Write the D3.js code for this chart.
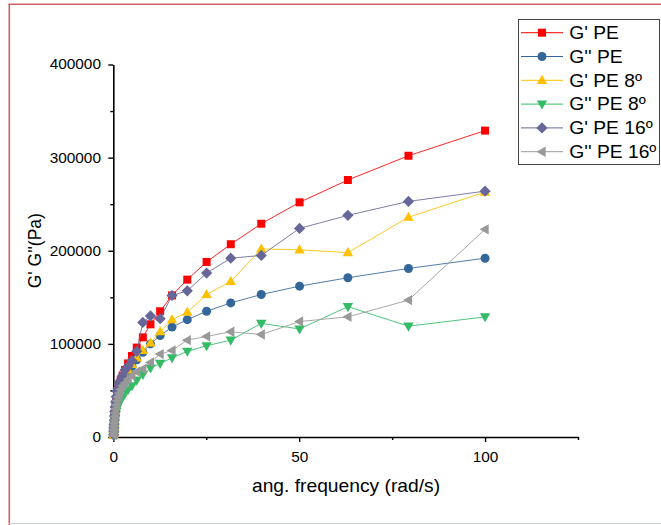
<!DOCTYPE html>
<html><head><meta charset="utf-8">
<script src="https://cdn.jsdelivr.net/npm/d3@7"></script>
<style>
body{margin:0;background:#fff}
svg{display:block;font-family:"Liberation Sans",Arial,sans-serif}
</style>
</head><body>
<svg id="c" width="661" height="525"></svg>
<script>
// ---- data ----
const freq = [0.1, 0.126, 0.158, 0.2, 0.251, 0.316, 0.398, 0.501, 0.631, 0.794,
  1, 1.26, 1.58, 2, 2.51, 3.16, 3.98, 5.01, 6.31, 7.94,
  10, 12.6, 15.8, 19.9, 25.1, 31.6, 39.8, 50.1, 63.1, 79.4, 100];
const gpPE = [2300, 5500, 9200, 12900, 17000, 21200, 25800, 30400, 35400, 40500,
  46000, 51000, 56000, 61000, 66000, 72000, 79000, 87000, 96000, 107000,
  121000, 135000, 152000, 169000, 188000, 207000, 229000, 252000, 276000, 302000, 329000];
const gppPE = [2100, 5000, 8400, 11800, 15500, 19300, 23500, 27700, 32300, 37000,
  42000, 46000, 50000, 54000, 59000, 64000, 70000, 76000, 83000, 91000,
  100000, 109000, 118000, 126000, 135000, 144000, 153000, 162000, 171000, 181000, 192000];
const gpPE8 = [2000, 4800, 8000, 11200, 14800, 18400, 22400, 26400, 30800, 35200,
  40000, 45000, 50000, 55000, 60000, 66000, 72000, 78000, 85000, 93000,
  101000, 113000, 126000, 134000, 153000, 167000, 202000, 201000, 198000, 236000, 263000];
const gppPE8 = [1600, 3700, 6200, 8700, 11500, 14300, 17400, 20500, 23900, 27300,
  31000, 34000, 37000, 40000, 43000, 47000, 51000, 55000, 61000, 67000,
  74000, 79000, 85000, 92000, 98000, 104000, 122000, 116000, 140000, 119000, 129000];
const gpPE16 = [2500, 5900, 9800, 13700, 18100, 22500, 27400, 32300, 37700, 43100,
  49000, 52000, 56000, 61000, 66000, 72000, 76000, 82000, 92000, 123000,
  130000, 127000, 152000, 157000, 176000, 192000, 195000, 224000, 238000, 253000, 264000];
const gppPE16 = [2000, 4700, 7800, 10900, 14400, 17900, 21800, 25700, 30000, 34300,
  39000, 43000, 47000, 51000, 55000, 58000, 62000, 66000, 70000, 73000,
  80000, 89000, 93000, 104000, 108000, 113000, 110000, 124000, 129000, 147000, 223000];
const seriesNames = ["G' PE", "G'' PE", "G' PE 8º", "G'' PE 8º", "G' PE 16º", "G'' PE 16º"];
const seriesValues = [gpPE, gppPE, gpPE8, gppPE8, gpPE16, gppPE16];
const xTicks = [0, 50, 100];
const xMinor = [25, 75, 125];
const yTicks = [0, 100000, 200000, 300000, 400000];
const yMinor = [50000, 150000, 250000, 350000];
const xTitle = "ang. frequency (rad/s)";
const yTitle = "G' G''(Pa)";

// ---- styles ----
const colors = ["#ff0000", "#336699", "#ffc000", "#33bb66", "#666699", "#999999"];
const shapes = {
  square: "M-4,-4H4V4H-4Z",
  circle: "M4.5,0A4.5,4.5 0 1,1 -4.5,0A4.5,4.5 0 1,1 4.5,0Z",
  up: "M0,-5.5L5.2,3.6L-5.2,3.6Z",
  down: "M0,5.5L5.2,-3.6L-5.2,-3.6Z",
  diamond: "M0,-5.6L5.6,0L0,5.6L-5.6,0Z",
  left: "M-5.5,0L3.6,-5.2L3.6,5.2Z"
};
const shapeOf = ["square", "circle", "up", "down", "diamond", "left"];
const SX = 1.1; // horizontal stretch of text in the reference

const svg = d3.select("#c");

// frame
svg.append("line").attr("x1", 9.3).attr("x2", 9.3).attr("y1", 4).attr("y2", 525)
  .attr("stroke", "#cd6060").attr("stroke-width", 1.6);
svg.append("line").attr("x1", 8.5).attr("x2", 661).attr("y1", 4.3).attr("y2", 4.3)
  .attr("stroke", "#cd6060").attr("stroke-width", 1.6);
svg.append("line").attr("x1", 9).attr("x2", 661).attr("y1", 523.5).attr("y2", 523.5)
  .attr("stroke", "#c9d2de").attr("stroke-width", 1.2);

const x = d3.scaleLinear().domain([0, 125]).range([113.3, 578]);
const y = d3.scaleLinear().domain([0, 400000]).range([437, 64.5]);

// axes
const gx = svg.append("g").attr("transform", `translate(0,${y(0)})`)
  .call(d3.axisBottom(x).tickValues(xTicks).tickSize(5).tickSizeOuter(0).tickPadding(10)
    .tickFormat(d3.format("d")));
gx.selectAll("text").attr("font-size", 14).attr("fill", "#000").attr("transform", `scale(${SX},1)`);
svg.append("g").attr("transform", `translate(0,${y(0)})`)
  .call(d3.axisBottom(x).tickValues(xMinor).tickSize(3).tickFormat(""))
  .call(g => g.select(".domain").remove());

const gy = svg.append("g").attr("transform", `translate(${x(0)},0)`)
  .call(d3.axisLeft(y).tickValues(yTicks).tickSize(5).tickSizeOuter(0)
    .tickFormat(d3.format("d")));
gy.selectAll("text").attr("font-size", 14).attr("fill", "#000")
  .attr("x", -12.3 / SX).attr("transform", `scale(${SX},1)`);
svg.append("g").attr("transform", `translate(${x(0)},0)`)
  .call(d3.axisLeft(y).tickValues(yMinor).tickSize(3).tickFormat(""))
  .call(g => g.select(".domain").remove());

svg.selectAll(".domain").attr("stroke", "#000").attr("stroke-width", 1.6);
svg.selectAll(".tick line").attr("stroke", "#000").attr("stroke-width", 1.4);

// titles
svg.append("text").attr("transform", `translate(346,491.5) scale(${SX},1)`)
  .attr("text-anchor", "middle").attr("font-size", 17.5).text(xTitle);
svg.append("text").attr("transform", `translate(40.5,250.7) scale(${SX},1) rotate(-90)`)
  .attr("text-anchor", "middle").attr("font-size", 17.5).text(yTitle);

// series
const line = d3.line().x((d, i) => x(freq[i])).y(d => y(d));
seriesValues.forEach((vals, s) => {
  const g = svg.append("g");
  g.append("path").datum(vals).attr("d", line).attr("fill", "none")
    .attr("stroke", colors[s]).attr("stroke-width", 1).attr("stroke-opacity", 0.85);
  g.selectAll("path.m").data(vals).join("path").attr("class", "m")
    .attr("d", shapes[shapeOf[s]])
    .attr("transform", (d, i) => `translate(${x(freq[i])},${y(d)})`)
    .attr("fill", colors[s]);
});

// legend
const lg = svg.append("g");
lg.append("rect").attr("x", 518.5).attr("y", 19.5).attr("width", 141).attr("height", 145)
  .attr("fill", "#fff").attr("stroke", "#444").attr("stroke-width", 1);
seriesNames.forEach((name, s) => {
  const cy = 32.7 + s * 23.8;
  lg.append("line").attr("x1", 521).attr("x2", 563).attr("y1", cy).attr("y2", cy)
    .attr("stroke", colors[s]).attr("stroke-width", 1);
  lg.append("path").attr("d", shapes[shapeOf[s]]).attr("transform", `translate(542,${cy})`)
    .attr("fill", colors[s]);
  lg.append("text").attr("transform", `translate(569.3,${cy}) scale(${SX},1)`)
    .attr("dy", "0.36em").attr("font-size", 17.5).text(name);
});
</script>
</body></html>
